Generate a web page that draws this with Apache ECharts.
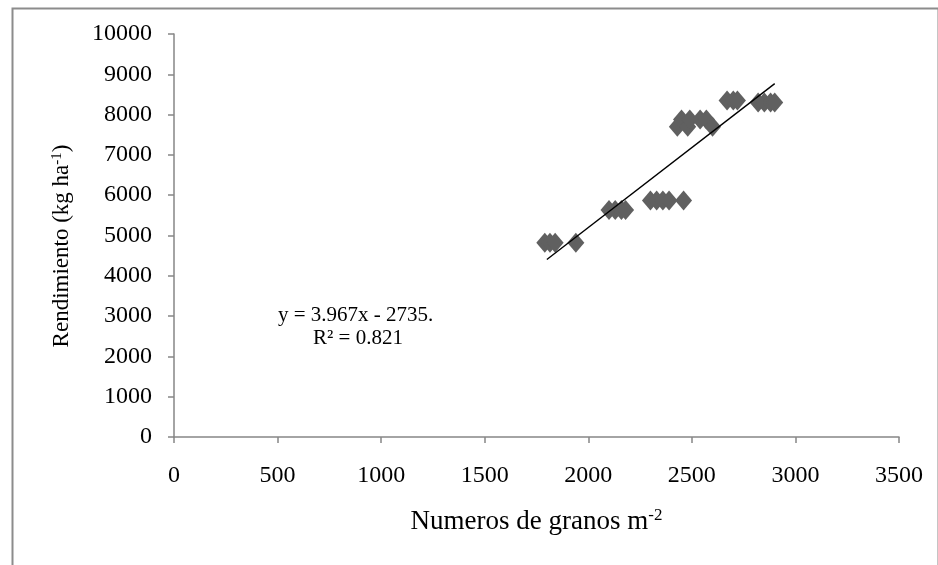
<!DOCTYPE html>
<html>
<head>
<meta charset="utf-8">
<script src="https://cdn.jsdelivr.net/npm/echarts@6/dist/echarts.min.js"></script>
<style>
html,body{margin:0;padding:0;background:#fff;}
#chart{width:938px;height:565px;}
</style>
</head>
<body>
<div id="chart"></div>
<script>
// Data
const grainsX = [1790, 1815, 1840, 1940,
                 2100, 2130, 2160, 2180,
                 2300, 2330, 2360, 2390, 2460,
                 2430, 2450, 2480, 2490, 2540, 2570, 2600,
                 2670, 2700, 2720, 2820, 2850, 2880, 2900];
const yieldY  = [4820, 4820, 4820, 4820,
                 5630, 5630, 5630, 5630,
                 5870, 5870, 5870, 5870, 5870,
                 7700, 7880, 7700, 7880, 7880, 7880, 7700,
                 8350, 8350, 8350, 8300, 8300, 8300, 8300];
const trendSlope = 3.967;
const trendIntercept = -2735;
const trendX = [1800, 2900];
const equationLines = ['y = 3.967x - 2735.', 'R\u00b2 = 0.821'];
const xTicks = [0, 500, 1000, 1500, 2000, 2500, 3000, 3500];
const yTicks = [0, 1000, 2000, 3000, 4000, 5000, 6000, 7000, 8000, 9000, 10000];
const xTitle = ['Numeros de granos m', '-2'];
const yTitle = ['Rendimiento (kg ha', '-1', ')'];

const scatterData = grainsX.map((x, i) => [x, yieldY[i]]);
const trendData = trendX.map(x => [x, trendSlope * x + trendIntercept]);

const FONT = '"Liberation Serif", "Times New Roman", serif';
const axisColor = '#868686';

const chart = echarts.init(document.getElementById('chart'), null, {renderer: 'canvas'});
chart.setOption({
  backgroundColor: '#fff',
  animation: false,
  grid: {left: 174, right: 39, top: 34, bottom: 128, containLabel: false},
  xAxis: {
    type: 'value',
    min: xTicks[0], max: xTicks[xTicks.length - 1], interval: 500,
    splitLine: {show: false},
    axisLine: {show: true, lineStyle: {color: axisColor, width: 1.5}},
    axisTick: {show: true, length: 6, inside: false, lineStyle: {color: axisColor, width: 1.5}},
    axisLabel: {margin: 27, fontFamily: FONT, fontSize: 24, color: '#000', formatter: v => String(v)},
    name: '{t|' + xTitle[0] + '}{s|' + xTitle[1] + '}',
    nameLocation: 'middle',
    nameGap: 70,
    nameTextStyle: {
      rich: {
        t: {fontFamily: FONT, fontSize: 27, color: '#000'},
        s: {fontFamily: FONT, fontSize: 17, color: '#000', verticalAlign: 'top', padding: [0,0,12,0]}
      }
    }
  },
  yAxis: {
    type: 'value',
    min: yTicks[0], max: yTicks[yTicks.length - 1], interval: 1000,
    splitLine: {show: false},
    axisLine: {show: true, lineStyle: {color: axisColor, width: 1.5}},
    axisTick: {show: true, length: 6, inside: false, lineStyle: {color: axisColor, width: 1.5}},
    axisLabel: {margin: 22, fontFamily: FONT, fontSize: 24, color: '#000', formatter: v => String(v)}
  },
  graphic: [
    {type: 'rect', left: 10, top: 6, shape: {width: 926, height: 580},
     style: {fill: 'none', stroke: '#8c8c8c', lineWidth: 2}, silent: true, z: -1},
    {type: 'text', x: 62, y: 246, rotation: Math.PI / 2,
     style: {
       text: '{t|' + yTitle[0] + '}{s|' + yTitle[1] + '}{t|' + yTitle[2] + '}',
       align: 'center', verticalAlign: 'middle',
       rich: {
         t: {fontFamily: FONT, fontSize: 23, fill: '#000'},
         s: {fontFamily: FONT, fontSize: 15, fill: '#000', verticalAlign: 'top', padding: [0,0,10,0]}
       }
     }},
    {type: 'text', left: 278, top: 305,
     style: {text: equationLines[0], font: '21px "Liberation Serif", serif', fill: '#000'}},
    {type: 'text', left: 313, top: 328,
     style: {text: equationLines[1], font: '21px "Liberation Serif", serif', fill: '#000'}}
  ],
  series: [
    {
      type: 'scatter',
      data: scatterData,
      symbol: 'diamond',
      symbolSize: [17, 20],
      itemStyle: {color: '#606060', opacity: 1},
      z: 2
    },
    {
      type: 'line',
      data: trendData,
      showSymbol: false,
      symbol: 'none',
      lineStyle: {color: '#000', width: 1.4},
      z: 3
    }
  ]
});
</script>
</body>
</html>
